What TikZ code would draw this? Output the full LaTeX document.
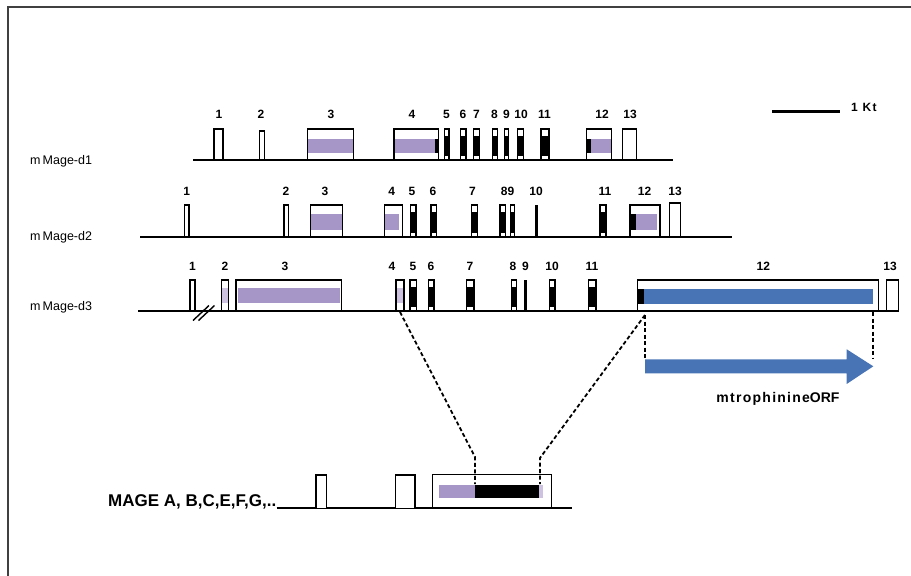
\documentclass[tikz,border=0pt]{standalone}
\usepackage{fontspec}
\setmainfont{Liberation Sans}
\newfontfamily\orffont[LetterSpace=9]{Liberation Sans}
\newfontfamily\kbfont[LetterSpace=12]{Liberation Sans}
\definecolor{lav}{RGB}{166,150,200}
\definecolor{palelav}{RGB}{205,195,225}
\definecolor{orfblue}{RGB}{72,116,182}
\tikzset{
  exon/.style={draw=black, line width=1.5pt},
  gline/.style={draw=black, line width=2pt},
  exnum/.style={font=\bfseries\fontsize{12}{13}\selectfont, inner sep=0pt},
  genename/.style={font=\fontsize{12.5}{14}\selectfont, anchor=west, inner sep=0pt},
  zoomline/.style={draw=black, line width=1.8pt, dash pattern=on 4pt off 2.5pt},
}
% white exon: x1 x2 top base
\newcommand\exW[4]{\draw[exon, fill=white] (#1,#4) rectangle (#2,#3);}
% dark-core exon
\newcommand\exD[4]{\fill[black] (#1,#3+7) rectangle (#2,#4-4); \draw[exon] (#1,#4) rectangle (#2,#3);}
% filled exon: x1 x2 top base colour fx1 fx2 fy1 fy2
\newcommand\exF[9]{\fill[#5] (#6,#8) rectangle (#7,#9); \draw[exon] (#1,#4) rectangle (#2,#3);}
\begin{document}
\begin{tikzpicture}[x=1pt,y=-1pt]
\useasboundingbox (0,0) rectangle (911,576);
\draw[line width=1.5pt, black!75] (8,576) -- (8,7) -- (911,7);

% scale bar
\coordinate (sb1) at (772,111.5);
\coordinate (sb2) at (840,111.5);
\draw[line width=2.6pt] (sb1) -- (sb2);
\node[font=\kbfont\bfseries\fontsize{12}{13}\selectfont, anchor=west, inner sep=0pt] (kb) at (851,107) {1 Kt};

% ---------- mMage-d1 ----------
\node[genename] (g1) at (30,161) {m\,Mage-d1};
\coordinate (r1s) at (193,160); \coordinate (r1e) at (673,160);
\draw[gline] (r1s) -- (r1e);
\exW{214}{223}{129}{160}
\exW{259.5}{264.5}{131}{160}
\exF{307.5}{353.5}{129}{160}{lav}{308}{353}{138.5}{152.5}
\exF{394}{438.5}{129}{160}{lav}{394.5}{438}{138.5}{152.5}
\fill[black] (435,138.5) rectangle (438.5,152.5);
\exD{444.3}{449}{129}{160}
\exD{460.7}{466}{129}{160}
\exD{473.3}{479.3}{129}{160}
\exD{492.3}{497.7}{129}{160}
\exD{504.3}{508.3}{129}{160}
\exD{517.7}{523.3}{129}{160}
\exD{541}{549}{129}{160}
\exF{586.7}{611.7}{129}{160}{lav}{587}{611}{138.5}{152.5}
\fill[black] (587,138.5) rectangle (591,152.5);
\exW{622.3}{636.7}{129}{160}
\foreach \n/\x in {1/219,2/261,3/331,4/412,5/446.5,6/463,7/476.5,8/494.5,9/506.5,10/521,11/544.5,12/602,13/630}
  \node[exnum] (a\n) at (\x,114) {\n};

% ---------- mMage-d2 ----------
\node[genename] (g2) at (30,237.5) {m\,Mage-d2};
\coordinate (r2s) at (140,237); \coordinate (r2e) at (732,237);
\draw[gline] (r2s) -- (r2e);
\exW{184.3}{189}{205}{237}
\exW{284}{288.3}{205}{237}
\exF{310.7}{342.7}{205}{237}{lav}{311.2}{342.2}{214}{230}
\exF{384.3}{402.3}{205}{237}{lav}{385}{399}{214}{230}
\exD{410.7}{416}{205}{237}
\exD{431}{436.5}{205}{237}
\exD{471.7}{477.3}{205}{237}
\exD{500}{505.3}{205}{237}
\exD{510.7}{514.7}{205}{237}
\fill[black] (534.5,205) rectangle (537.5,237);
\exD{600}{606}{205}{237}
\exF{630}{660}{205}{237}{lav}{630.5}{657}{214}{230}
\fill[black] (630.5,214) rectangle (635.5,230);
\exW{669.3}{680.7}{203}{237}
\foreach \n/\l/\x in {1/1/186.7,2/2/286,3/3/325,4/4/391.7,5/5/412,6/6/433,7/7/472.5,89/89/507.5,10/10/536,11/11/605,12/12/644.5,13/13/675}
  \node[exnum] (b\n) at (\x,191.7) {\l};

% ---------- mMage-d3 ----------
\node[genename] (g3) at (30,307.5) {m\,Mage-d3};
\coordinate (r3s) at (138,311); \coordinate (r3e) at (898,311);
\draw[gline] (r3s) -- (r3e);
\exW{190}{195}{280}{311}
\draw[line width=1.4pt] (193,320.5) -- (209,305.5) (198.5,320.5) -- (214.5,305.5);
\exF{221.7}{228.3}{280}{311}{palelav}{222.2}{227.8}{288.3}{303.3}
\exF{236}{341.7}{280}{311}{lav}{238}{340}{288.3}{303.3}
\exF{396}{404}{280}{311}{palelav}{396.5}{403.5}{288.3}{303.3}
\exD{410}{416.7}{280}{311}
\exD{428.3}{434}{280}{311}
\exD{466.7}{474}{280}{311}
\exD{511.7}{516.7}{280}{311}
\fill[black] (524,280) rectangle (526.5,311);
\exD{549.3}{555}{280}{311}
\exD{588.3}{596}{280}{311}
\exF{637.3}{878.3}{280}{311}{orfblue}{638.3}{872.7}{289.3}{304}
\fill[black] (638.3,289.3) rectangle (643.5,304);
\exW{886.7}{898.3}{280}{311}
\foreach \n/\x in {1/192.5,2/225,3/285,4/392,5/413,6/431,7/470,8/513,9/525.5,10/552,11/592,12/763.3,13/890}
  \node[exnum] (c\n) at (\x,266.7) {\n};

% ---------- ORF arrow ----------
\fill[orfblue] (645,359.3) -- (846.7,359.3) -- (846.7,349.3) -- (873.3,366.3)
  -- (846.7,384) -- (846.7,373.3) -- (645,373.3) -- cycle;
\node[font=\orffont\bfseries\fontsize{14}{16}\selectfont, inner sep=0pt] (orf) at (778,398.5) {mtrophinine\addfontfeature{LetterSpace=0}ORF};
\coordinate (o1) at (645,315); \coordinate (o2) at (645,359);
\coordinate (o3) at (873.3,312); \coordinate (o4) at (873.3,359);
\draw[zoomline] (o1) -- (o2);
\draw[zoomline] (o3) -- (o4);

% ---------- MAGE ----------
\node[font=\bfseries\fontsize{17}{19}\selectfont, anchor=base east, inner sep=0pt] (mage) at (276.5,506.5) {MAGE A, B,C,E,F,G,..};
\coordinate (m1) at (276.7,508.3); \coordinate (m2) at (571.7,508.3);
\draw[gline] (m1) -- (m2);
\exW{316}{326.7}{475}{508.3}
\exW{395.7}{415}{475}{508.3}
\fill[lav] (439.3,485) rectangle (475,498.3);
\fill[black] (475,485) rectangle (539.3,498.3);
\fill[palelav] (539.3,485) rectangle (543,498.3);
\draw[exon] (432.3,508.3) rectangle (551.7,474.3);

% zoom connectors
\coordinate (z1) at (400,312); \coordinate (z2) at (475,457); \coordinate (z3) at (475,484);
\coordinate (y1) at (645,315); \coordinate (y2) at (540,458); \coordinate (y3) at (540,484);
\draw[zoomline] (z1) -- (z2) -- (z3);
\draw[zoomline] (y1) -- (y2) -- (y3);
\end{tikzpicture}
\end{document}
